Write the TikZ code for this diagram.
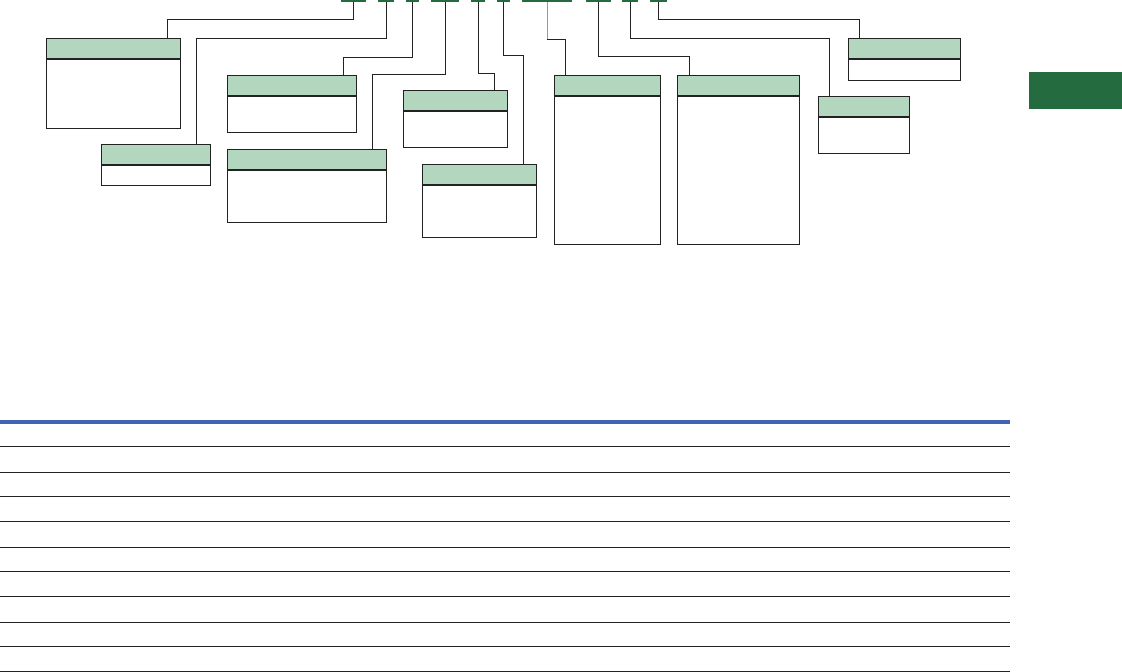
\documentclass[tikz,border=0pt]{standalone}
\usepackage{tikz}
\usetikzlibrary{positioning}
\definecolor{hdrgreen}{HTML}{B3D6BF}
\definecolor{bargreen}{HTML}{246B40}
\definecolor{rowblue}{HTML}{4263B3}
\definecolor{inkgray}{HTML}{222222}
\tikzset{
  hdr/.style={draw=inkgray, line width=0.9pt, fill=hdrgreen, inner sep=0pt, minimum height=20pt, anchor=north west},
  bdy/.style={draw=inkgray, line width=0.9pt, fill=white, inner sep=0pt, anchor=north west},
  bar/.style={fill=bargreen, inner sep=0pt, minimum height=2pt, anchor=north west},
  conn/.style={draw=inkgray, line width=0.9pt},
  rowline/.style={draw=inkgray, line width=0.9pt}
}
\begin{document}
\begin{tikzpicture}[x=1pt, y=-1pt]
\useasboundingbox (0,0) rectangle (1122,672);

% Top bars
\node[bar, minimum width=25pt] (bar1) at (341,0) {};
\node[bar, minimum width=16pt] (bar2) at (378,0) {};
\node[bar, minimum width=13pt] (bar3) at (406,0) {};
\node[bar, minimum width=28pt] (bar4) at (431,0) {};
\node[bar, minimum width=14pt] (bar5) at (471,0) {};
\node[bar, minimum width=13pt] (bar6) at (497,0) {};
\node[bar, minimum width=50pt] (bar7) at (522,0) {};
\node[bar, minimum width=25pt] (bar8) at (586,0) {};
\node[bar, minimum width=16pt] (bar9) at (622,0) {};
\node[bar, minimum width=17pt] (bar10) at (650,0) {};

% Side tab
\node[fill=bargreen, inner sep=0pt, minimum width=93pt, minimum height=36.7pt, anchor=north west] (tab) at (1029,72) {};

% Boxes: header + body
\node[hdr, minimum width=134pt] (b1h) at (46.3,38.3) {};
\node[bdy, minimum width=134pt, minimum height=69pt] (b1) at (b1h.south west) {};
\node[hdr, minimum width=108.4pt] (b2h) at (101.3,144.3) {};
\node[bdy, minimum width=108.4pt, minimum height=20pt] (b2) at (b2h.south west) {};
\node[hdr, minimum width=129pt] (b3h) at (227.3,75.3) {};
\node[bdy, minimum width=129pt, minimum height=36pt] (b3) at (b3h.south west) {};
\node[hdr, minimum width=159pt] (b4h) at (227.3,149.3) {};
\node[bdy, minimum width=159pt, minimum height=51.7pt] (b4) at (b4h.south west) {};
\node[hdr, minimum width=103.4pt] (b5h) at (403.3,90.3) {};
\node[bdy, minimum width=103.4pt, minimum height=36pt] (b5) at (b5h.south west) {};
\node[hdr, minimum width=114pt] (b6h) at (422.3,164.3) {};
\node[bdy, minimum width=114pt, minimum height=52pt] (b6) at (b6h.south west) {};
\node[hdr, minimum width=106pt] (b7h) at (554.3,75.3) {};
\node[bdy, minimum width=106pt, minimum height=147.7pt] (b7) at (b7h.south west) {};
\node[hdr, minimum width=122pt] (b8h) at (677.3,75.3) {};
\node[bdy, minimum width=122pt, minimum height=147.7pt] (b8) at (b8h.south west) {};
\node[hdr, minimum width=91pt] (b9h) at (818.3,96.3) {};
\node[bdy, minimum width=91pt, minimum height=36pt] (b9) at (b9h.south west) {};
\node[hdr, minimum width=112pt] (b10h) at (848.3,38.3) {};
\node[bdy, minimum width=112pt, minimum height=20.7pt] (b10) at (b10h.south west) {};

% Connectors
\draw[conn] (bar1.south) -- ++(0,17.3) -| ([xshift=121pt]b1h.north west);
\draw[conn] (bar2.south) -- ++(0,36.3) -| ([xshift=95pt]b2h.north west);
\draw[conn] (bar3.south) -- ++(0,54.7) -| ([xshift=116pt]b3h.north west);
\draw[conn] (bar4.south) -- ++(0,72.3) -| ([xshift=145pt]b4h.north west);
\draw[conn] (bar5.south) -- ++(0,71.3) -| ([xshift=91pt]b5h.north west);
\draw[conn] (bar6.south) -- ++(0,53.3) -| ([xshift=101pt]b6h.north west);
\draw[conn, black!40] (bar7.south) -- ++(0,36.7) coordinate (k7);
\draw[conn] (k7) -| ([xshift=11.4pt]b7h.north west);
\draw[conn] (bar8.south) -- ++(0,54.3) -| ([xshift=12pt]b8h.north west);
\draw[conn] (bar9.south) -- ++(0,36.3) -| ([xshift=11pt]b9h.north west);
\draw[conn] (bar10.south) -- ++(0,17.3) -| ([xshift=11pt]b10h.north west);

% Table rules
\draw[rowblue, line width=4pt] (0,422) -- (1009.7,422);
\draw[rowline] (0,446.3) -- (1009.7,446.3);
\draw[rowline] (0,472) -- (1009.7,472);
\draw[rowline] (0,496.3) -- (1009.7,496.3);
\draw[rowline] (0,521.3) -- (1009.7,521.3);
\draw[rowline] (0,547.3) -- (1009.7,547.3);
\draw[rowline] (0,571.3) -- (1009.7,571.3);
\draw[rowline] (0,596.3) -- (1009.7,596.3);
\draw[rowline] (0,622.3) -- (1009.7,622.3);
\draw[rowline] (0,646.3) -- (1009.7,646.3);
\draw[rowline] (0,671) -- (1009.7,671);

\end{tikzpicture}
\end{document}
